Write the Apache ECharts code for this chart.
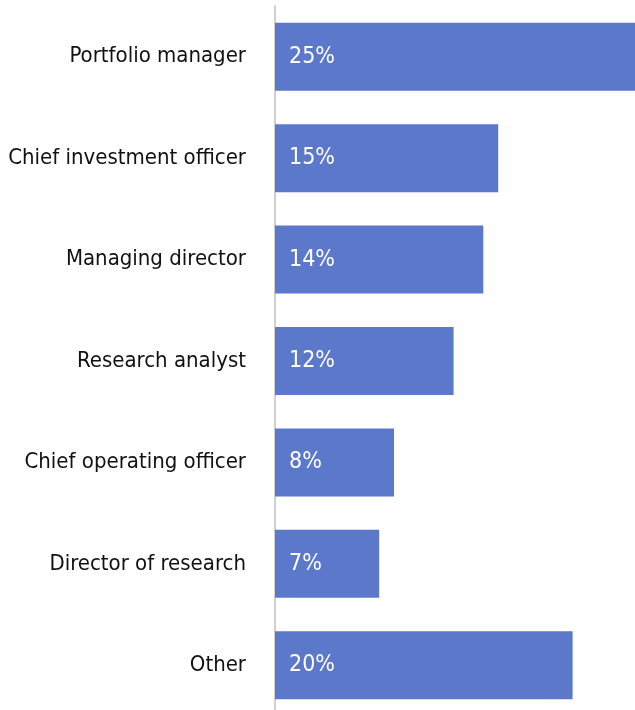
<!DOCTYPE html>
<html>
<head>
<meta charset="utf-8">
<script src="https://cdn.jsdelivr.net/npm/echarts@6/dist/echarts.min.js"></script>
<style>
  html, body { margin: 0; padding: 0; background: #fff; }
  #chart { width: 635px; height: 710px; }
</style>
</head>
<body>
<div id="chart"></div>
<script>
// 职位分布
var roles = ['Portfolio manager', 'Chief investment officer', 'Managing director',
  'Research analyst', 'Chief operating officer', 'Director of research', 'Other'];
var shares = [25, 15, 14, 12, 8, 7, 20];

var font = '"Liberation Sans Narrow", "DejaVu Sans Condensed", sans-serif';
var myChart = echarts.init(document.getElementById('chart'));

var option = {
  animation: false,
  grid: {
    left: 275, top: 6, width: 372, height: 710,
    containLabel: false, outerBoundsMode: 'none'
  },
  xAxis: {
    type: 'value', min: 0, max: 25, show: false
  },
  yAxis: {
    type: 'category',
    inverse: true,
    data: roles,
    axisLine: { show: true, lineStyle: { color: '#d0d0d0', width: 2 } },
    axisTick: { show: false },
    axisLabel: { color: '#111', fontSize: 22, fontFamily: font, margin: 29 }
  },
  series: [{
    type: 'bar',
    data: shares,
    barWidth: 68,
    itemStyle: { color: '#5b78cb' },
    label: {
      show: true,
      position: 'insideLeft',
      distance: 14,
      color: '#fff',
      fontSize: 23,
      fontFamily: font,
      formatter: function (p) { return p.value + '%'; }
    }
  }]
};

myChart.setOption(option, true);
</script>
</body>
</html>
